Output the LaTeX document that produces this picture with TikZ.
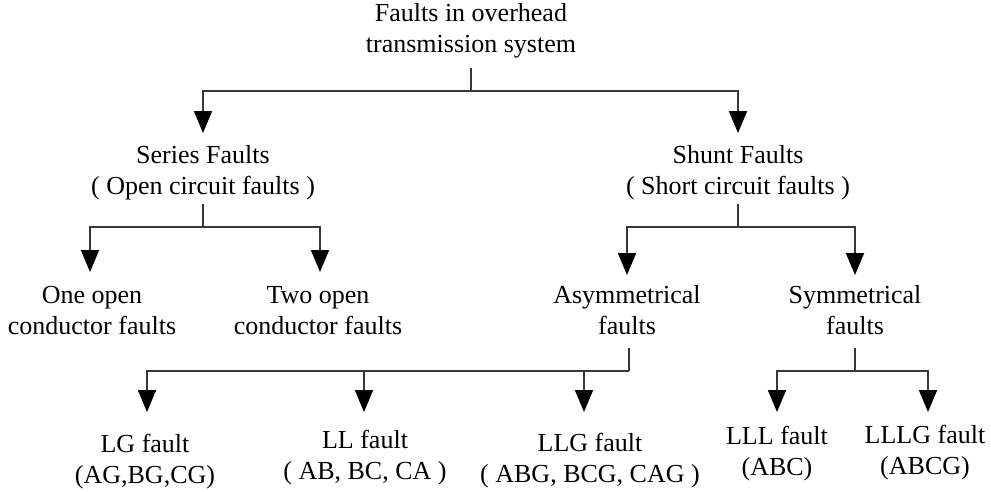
\documentclass[tikz,border=0pt]{standalone}
\usepackage{fontspec}
\setmainfont{Liberation Serif}
\usetikzlibrary{arrows.meta}
\begin{document}
\begin{tikzpicture}[x=1pt,y=-1pt,
  lbl/.style={align=center,inner sep=0pt,outer sep=0pt,font=\fontsize{26}{31}\selectfont},
  ln/.style={draw=black!78,line width=1.8pt},
  arr/.style={ln,-{Triangle[width=18pt,length=22pt,fill=black,color=black]}}]
\fill[white] (0,0) rectangle (991,491);
\useasboundingbox (0,0) rectangle (991,491);
% nodes
\node[lbl] (top) at (471,31) {\strut Faults in overhead\\\strut transmission system};
\node[lbl] (series) at (203,173) {\strut Series Faults\\\strut ( Open circuit faults )};
\node[lbl] (shunt) at (738,173) {\strut Shunt Faults\\\strut ( Short circuit faults )};
\node[lbl] (one) at (92,313) {\strut One open\\\strut conductor faults};
\node[lbl] (two) at (318,313) {\strut Two open\\\strut conductor faults};
\node[lbl] (asym) at (627,313) {\strut Asymmetrical\\\strut faults};
\node[lbl] (sym) at (855,313) {\strut Symmetrical\\\strut faults};
\node[lbl] (lg) at (145,462) {\strut LG fault\\\strut (AG,BG,CG)};
\node[lbl] (ll) at (365,458) {\strut LL fault\\\strut ( AB, BC, CA )};
\node[lbl] (llg) at (590,461) {\strut LLG fault\\\strut ( ABG, BCG, CAG )};
\node[lbl] (lll) at (777,454) {\strut LLL fault\\\strut (ABC)};
\node[lbl] (lllg) at (925,453) {\strut LLLG fault\\\strut (ABCG)};
% junctions
\coordinate (b1) at (471,91);
\coordinate (b2) at (203,227);
\coordinate (b3) at (738,227);
\coordinate (b4) at (629,371);
\coordinate (b5) at (855,371);
% connectors
\draw[ln] ([yshift=-6pt]top.south) -- (b1);
\draw[arr] (b1) -| ([yshift=9pt]series.north);
\draw[arr] (b1) -| ([yshift=9pt]shunt.north);
\draw[ln] (series.south) -- (b2);
\draw[arr] (b2) -| ([xshift=-2pt,yshift=10pt]one.north);
\draw[arr] (b2) -| ([xshift=2pt,yshift=10pt]two.north);
\draw[ln] (shunt.south) -- (b3);
\draw[arr] (b3) -| ([yshift=7pt]asym.north);
\draw[arr] (b3) -| ([yshift=7pt]sym.north);
\draw[ln] ([xshift=2pt,yshift=-4pt]asym.south) -- (b4);
\draw[arr] (b4) -| ([xshift=2pt,yshift=19pt]lg.north);
\draw[arr] (b4) -| ([xshift=-1pt,yshift=15pt]ll.north);
\draw[arr] (b4) -| ([xshift=-6pt,yshift=18pt]llg.north);
\draw[ln] ([yshift=-4pt]sym.south) -- (b5);
\draw[arr] (b5) -| ([yshift=11pt]lll.north);
\draw[arr] (b5) -| ([xshift=3pt,yshift=10pt]lllg.north);
\end{tikzpicture}
\end{document}
